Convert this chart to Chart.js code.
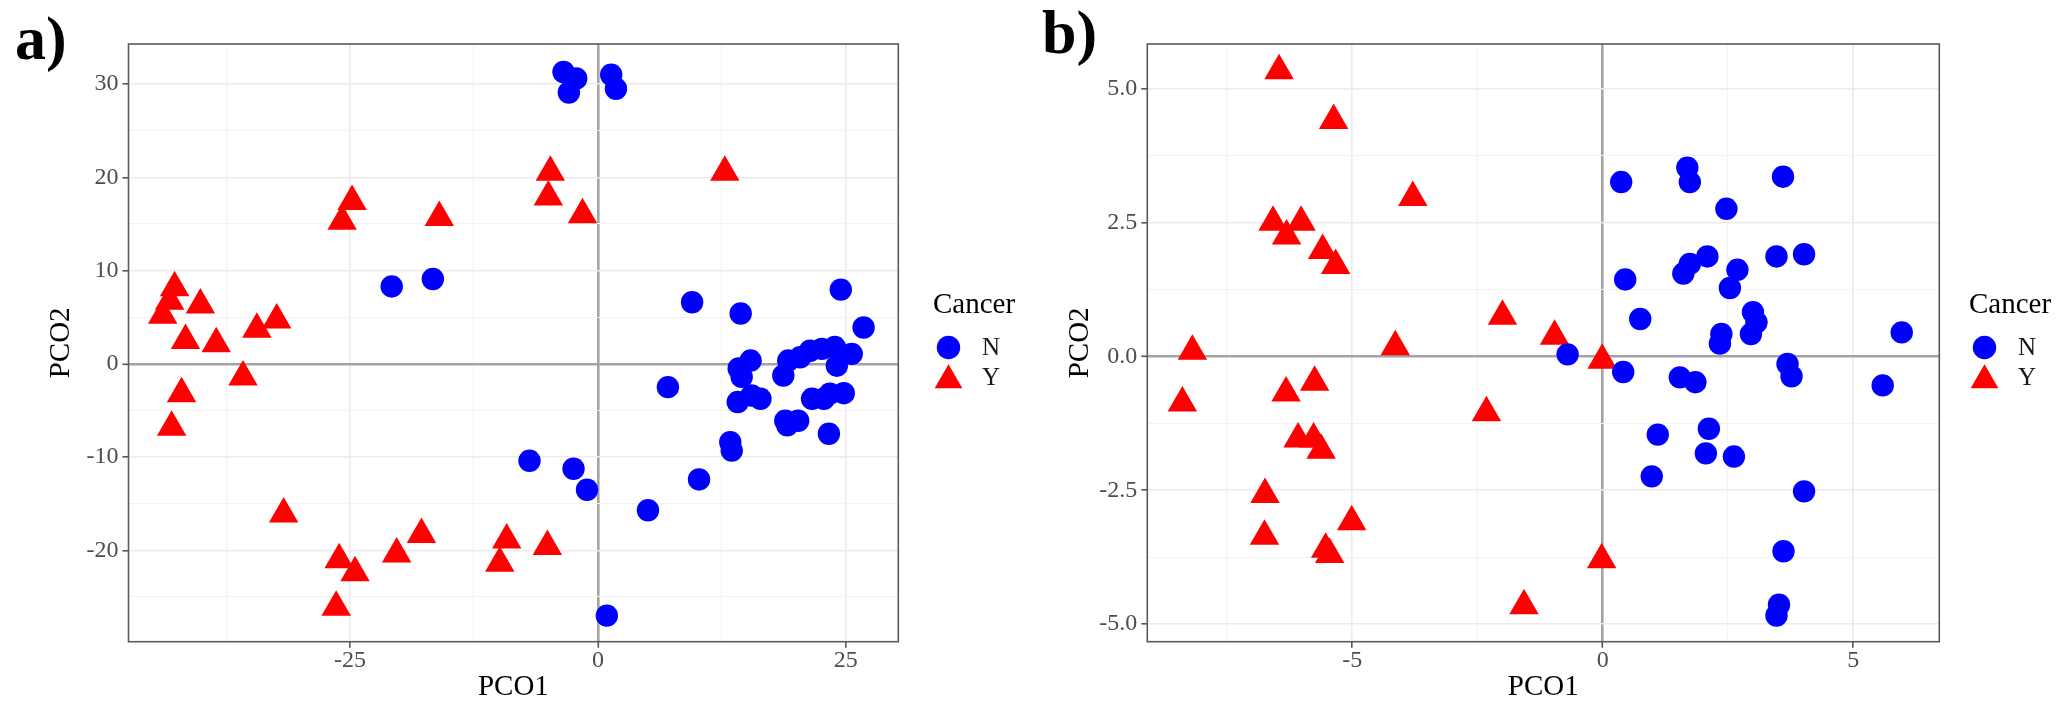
<!DOCTYPE html>
<html>
<head>
<meta charset="utf-8">
<title>PCoA - Cancer</title>
<script src="https://cdn.jsdelivr.net/npm/chart.js@4.4.0/dist/chart.umd.min.js"></script>
<style>
  html, body { margin: 0; padding: 0; background: #ffffff; }
  .panel { position: absolute; top: 0; height: 704px; }
</style>
</head>
<body>
<div class="panel" style="left:0; width:1030px;"><canvas id="chartA"></canvas></div>
<div class="panel" style="left:1030px; width:1037px;"><canvas id="chartB"></canvas></div>
<script>
// ---- panel a) data ----
const aN_x = [-3.47, -2.19, -2.93, 1.34, 1.82, -20.8, -16.65, 9.5, 24.5, 26.8, 14.4,
    -6.9, -2.46, -1.1, 0.9, 5.05, 7.06, 10.2, 13.35, 13.5,
    15.4, 14.2, 14.5, 14.1, 15.5, 16.4,
    19.2, 18.7, 20.4, 21.4, 22.6, 23.9, 25.6, 24.1,
    21.6, 22.8, 23.4, 24.8, 18.9, 20.2, 19.1, 23.3];
const aN_y = [31.3, 30.6, 29.1, 31.0, 29.5, 8.3, 9.1, 6.6, 7.96, 3.9, 5.4,
    -10.4, -11.25, -13.5, -27.0, -15.7, -2.5, -12.4, -8.4, -9.3,
    0.35, -0.5, -1.4, -4.1, -3.4, -3.75,
    0.35, -1.25, 0.7, 1.4, 1.6, 1.8, 1.07, -0.2,
    -3.75, -3.75, -3.2, -3.15, -6.1, -6.1, -6.6, -7.5];
const aY_x = [-24.8, -25.8, -16.0, -42.7, -43.2, -43.9, -40.1, -34.4, -32.4, -41.6, -38.5,
    -35.8, -42.0, -43.0, -31.7, -26.1, -24.5, -26.4, -20.3, -17.8, -9.2, -9.9, -5.1,
    -4.8, -5.0, -1.55, 12.8];
const aY_y = [17.4, 15.3, 15.7, 8.15, 6.7, 5.2, 6.3, 3.7, 4.7, 2.5, 2.15,
    -1.4, -3.2, -6.8, -16.1, -21.0, -22.4, -26.1, -20.4, -18.3, -18.9, -21.4, -19.6,
    20.55, 17.9, 16.0, 20.55];
const aX_major = [-25, 0, 25];
const aX_minor = [-37.5, -12.5, 12.5];
const aY_major = [-20, -10, 0, 10, 20, 30];
const aY_minor = [-25, -15, -5, 5, 15, 25];

// ---- panel b) data ----
const bN_x = [0.37, 1.69, 1.74, 3.6, 2.47, 2.09, 1.74, 1.61, 3.47, 4.02, 2.69, 2.54,
    0.45, 0.75, 3.0, 3.07, 2.96, 2.37, 2.34, 5.97, -0.70,
    0.41, 1.54, 1.85, 3.69, 3.77, 5.59,
    1.10, 2.12, 2.06, 2.62, 0.98, 4.02, 3.61, 3.52, 3.47];
const bN_y = [3.26, 3.53, 3.26, 3.36, 2.76, 1.87, 1.73, 1.55, 1.87, 1.91, 1.62, 1.28,
    1.44, 0.70, 0.83, 0.64, 0.42, 0.42, 0.24, 0.45, 0.04,
    -0.29, -0.39, -0.48, -0.14, -0.37, -0.54,
    -1.46, -1.35, -1.81, -1.87, -2.24, -2.52, -3.64, -4.64, -4.84];
const bY_x = [-6.46, -5.37, -3.79, -6.58, -6.31, -6.02, -5.59, -5.33, -2.0, -8.19, -4.14,
    -0.96, -0.01, -0.02, -8.39, -6.32, -5.75, -6.08, -5.77, -5.62, -6.74, -6.75, -5.01,
    -5.53, -5.45, -2.32, -1.57];
const bY_y = [5.34, 4.41, 2.97, 2.51, 2.25, 2.51, 1.98, 1.70, 0.75, 0.1, 0.18,
    0.38, -0.07, -3.8, -0.87, -0.68, -0.48, -1.54, -1.54, -1.75, -2.58, -3.36, -3.09,
    -3.6, -3.7, -1.05, -4.66];
const bX_major = [-5, 0, 5];
const bX_minor = [-7.5, -2.5, 2.5];
const bY_major = [-5, -2.5, 0, 2.5, 5];
const bY_minor = [-3.75, -1.25, 1.25, 3.75];

const groups = ['N', 'Y'];
const legendTitle = 'Cancer';

// ggplot-like look
const SERIF = "'Liberation Serif', 'Times New Roman', serif";
const BLUE = '#0000ff';
const RED = '#ff0000';
Chart.defaults.font.family = SERIF;

function toPoints(xs, ys) {
    return xs.map((x, i) => ({ x: x, y: ys[i] }));
}

// Panel border, tag letter and legend (ggplot style)
const framePlugin = {
    id: 'frame',
    afterDraw(chart, args, opts) {
        const ctx = chart.ctx;
        const a = chart.chartArea;
        ctx.save();
        ctx.strokeStyle = '#5a5a5a';
        ctx.lineWidth = 1.6;
        ctx.strokeRect(a.left, a.top, a.right - a.left, a.bottom - a.top);

        // panel tag
        ctx.fillStyle = '#000';
        ctx.font = 'bold 62px ' + SERIF;
        ctx.textBaseline = 'alphabetic';
        ctx.textAlign = 'left';
        ctx.fillText(opts.tag, opts.tagX, opts.tagY);

        // legend
        const lx = a.right + opts.legendDx;
        ctx.font = '29px ' + SERIF;
        ctx.fillText(legendTitle, lx, 313);
        const mx = lx + 15.5;
        ctx.font = '25px ' + SERIF;
        ctx.textBaseline = 'middle';
        // N: circle
        ctx.fillStyle = BLUE;
        ctx.beginPath();
        ctx.arc(mx, 347.5, 11.7, 0, Math.PI * 2);
        ctx.fill();
        // Y: triangle
        const r = 16, ty = 380.3;
        ctx.fillStyle = RED;
        ctx.beginPath();
        ctx.moveTo(mx, ty - r);
        ctx.lineTo(mx + r * Math.sin(Math.PI * 2 / 3), ty + r / 2);
        ctx.lineTo(mx - r * Math.sin(Math.PI * 2 / 3), ty + r / 2);
        ctx.closePath();
        ctx.fill();
        ctx.fillStyle = '#1a1a1a';
        ctx.fillText(groups[0], lx + 49, 348);
        ctx.fillText(groups[1], lx + 49, 378);
        ctx.restore();
    }
};

function axisOptions(cfg) {
    const isMajor = v => cfg.major.includes(v);
    return {
        type: 'linear',
        min: cfg.min,
        max: cfg.max,
        afterBuildTicks: axis => {
            axis.ticks = cfg.major.concat(cfg.minor).sort((p, q) => p - q).map(v => ({ value: v }));
        },
        afterFit: scale => {
            if (cfg.width !== undefined) scale.width = cfg.width;
            if (cfg.height !== undefined) scale.height = cfg.height;
        },
        border: { display: false },
        grid: {
            color: c => (c.tick && c.tick.value === 0) ? '#a3a3a3' : (isMajor(c.tick.value) ? '#ebebeb' : '#f3f3f3'),
            lineWidth: c => (c.tick && c.tick.value === 0) ? 2.6 : (isMajor(c.tick.value) ? 1.6 : 1),
            tickColor: c => isMajor(c.tick.value) ? '#555555' : 'rgba(0,0,0,0)',
            tickWidth: 1.6,
            tickLength: 6,
            drawTicks: true
        },
        ticks: {
            autoSkip: false,
            maxRotation: 0,
            color: '#4d4d4d',
            padding: cfg.tickPad,
            font: { size: 24, lineHeight: 1 },
            callback: v => isMajor(v) ? cfg.fmt(v) : ''
        },
        title: {
            display: true,
            text: cfg.title,
            color: '#000000',
            font: { size: 29, lineHeight: 1 },
            padding: cfg.titlePad
        }
    };
}

function makePanel(canvasId, cfg) {
    const ctx = document.getElementById(canvasId);
    return new Chart(ctx, {
        type: 'scatter',
        data: {
            datasets: [{
                label: groups[0],
                data: toPoints(cfg.nx, cfg.ny),
                pointStyle: 'circle',
                pointRadius: 11.2,
                pointHoverRadius: 11.2,
                backgroundColor: BLUE,
                borderWidth: 0
            }, {
                label: groups[1],
                data: toPoints(cfg.yx, cfg.yy),
                pointStyle: 'triangle',
                pointRadius: 17,
                pointHoverRadius: 17,
                backgroundColor: RED,
                borderWidth: 0
            }]
        },
        options: {
            responsive: true,
            maintainAspectRatio: false,
            animation: false,
            events: [],
            layout: { padding: { left: 0, top: 44, right: cfg.padRight, bottom: 0 } },
            plugins: {
                legend: { display: false },
                tooltip: { enabled: false },
                frame: cfg.frame
            },
            scales: {
                x: axisOptions({
                    min: cfg.xRange[0], max: cfg.xRange[1],
                    major: cfg.xMajor, minor: cfg.xMinor,
                    fmt: v => String(v), title: 'PCO1',
                    height: 62.3, tickPad: 1, titlePad: { top: 0, bottom: 2 }
                }),
                y: axisOptions({
                    min: cfg.yRange[0], max: cfg.yRange[1],
                    major: cfg.yMajor, minor: cfg.yMinor,
                    fmt: cfg.yFmt, title: 'PCO2',
                    width: cfg.yWidth, tickPad: 4, titlePad: { top: cfg.yTitlePad, bottom: 0 }
                })
            }
        },
        plugins: [framePlugin]
    });
}

makePanel('chartA', {
    nx: aN_x, ny: aN_y, yx: aY_x, yy: aY_y,
    xRange: [-47.35, 30.3], yRange: [-29.8, 34.3],
    xMajor: aX_major, xMinor: aX_minor, yMajor: aY_major, yMinor: aY_minor,
    yFmt: v => String(v),
    yWidth: 128.5, yTitlePad: 46.5, padRight: 131.7,
    frame: { tag: 'a)', tagX: 15, tagY: 59, legendDx: 34.7 }
});

makePanel('chartB', {
    nx: bN_x, ny: bN_y, yx: bY_x, yy: bY_y,
    xRange: [-9.09, 6.72], yRange: [-5.33, 5.84],
    xMajor: bX_major, xMinor: bX_minor, yMajor: bY_major, yMinor: bY_minor,
    yFmt: v => v.toFixed(1),
    yWidth: 117.3, yTitlePad: 36, padRight: 127.7,
    frame: { tag: 'b)', tagX: 12, tagY: 53, legendDx: 29.7 }
});
</script>
</body>
</html>
